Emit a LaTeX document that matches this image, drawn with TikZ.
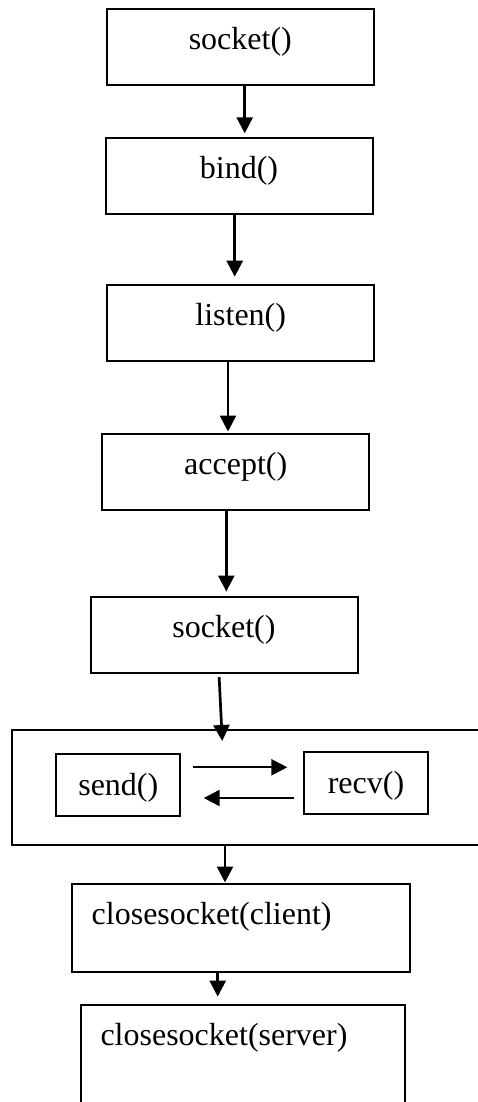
\documentclass[tikz,border=0pt]{standalone}
\usepackage{fontspec}
\setmainfont{Liberation Serif}
\usetikzlibrary{arrows.meta}

\begin{document}
\begin{tikzpicture}
  [ x=1pt, y=-1pt,
    box/.style={rectangle, draw=black, line width=2pt, minimum width=267pt, minimum height=76pt, inner sep=0pt, font=\fontsize{32pt}{38pt}\selectfont, text height=22pt, text depth=17pt},
    small/.style={box, minimum width=124pt, minimum height=62pt, text depth=1pt},
    wide/.style={box, align=left, inner xsep=20pt, inner ysep=0pt},
    outer/.style={rectangle, draw=black, line width=2pt, minimum width=478pt, minimum height=115pt},
    arrow/.style={-{Triangle[length=16pt,width=16pt]}, line width=2.7pt, black}
  ]

  \useasboundingbox (0,0) rectangle (478,1102);

  \node[box] (sockettop) at (240.3,47.5) {socket()};
  \node[box] (bindbox) at (239,176.3) {bind()};
  \node[box] (listenbox) at (240.7,323.3) {listen()};
  \node[box] (acceptbox) at (235.7,472.2) {accept()};
  \node[box] (socketclient) at (224,635.2) {socket()};
  \node[outer] (loopbox) at (250.8,787.8) {};
  \node[small] (sendbox) at (118.3,784.5) {send()};
  \node[small] (recvbox) at (366,783.2) {recv()};
  \node[wide, text width=298pt, minimum height=88pt, text depth=30pt] (closeclient) at (240.7,928.2) {closesocket(client)};
  \node[wide, text width=284pt, minimum height=107pt, text depth=49pt] (closeserver) at (242.5,1058.7) {closesocket(server)};

  \draw [arrow, shorten >=4pt] ([xshift=4.4pt]sockettop.south) -- ([xshift=4.4pt]sockettop.south |- bindbox.north);
  \draw [arrow, shorten >=7.6pt] ([xshift=-4.3pt]bindbox.south) -- ([xshift=-4.3pt]bindbox.south |- listenbox.north);
  \draw [arrow, shorten >=1.7pt] ([xshift=-12.7pt]listenbox.south) -- ([xshift=-12.7pt]listenbox.south |- acceptbox.north);
  \draw [arrow, shorten >=4.7pt] ([xshift=-9.4pt]acceptbox.south) -- ([xshift=-9.4pt]acceptbox.south |- socketclient.north);
  \draw [arrow, shorten <=3pt, shorten >=-11.7pt] ([xshift=-5pt]socketclient.south) -- ([xshift=-2.3pt]socketclient.south |- loopbox.north);

  \draw [arrow, line width=2.3pt, shorten <=11.4pt, shorten >=15.7pt] ([yshift=17.2pt]sendbox.east) -- ([yshift=17.2pt]sendbox.east -| recvbox.west);
  \draw [arrow, line width=2.3pt, shorten <=9pt, shorten >=22.4pt] ([yshift=-13.5pt]sendbox.east -| recvbox.west) -- ([yshift=-13.5pt]sendbox.east);

  \draw [arrow, shorten >=0.7pt] ([xshift=-15.7pt]closeclient.north |- loopbox.south) -- ([xshift=-15.7pt]closeclient.north);
  \draw [arrow, shorten >=7.6pt] ([xshift=-23pt]closeclient.south) -- ([xshift=-23pt]closeclient.south |- closeserver.north);
\end{tikzpicture}
\end{document}
